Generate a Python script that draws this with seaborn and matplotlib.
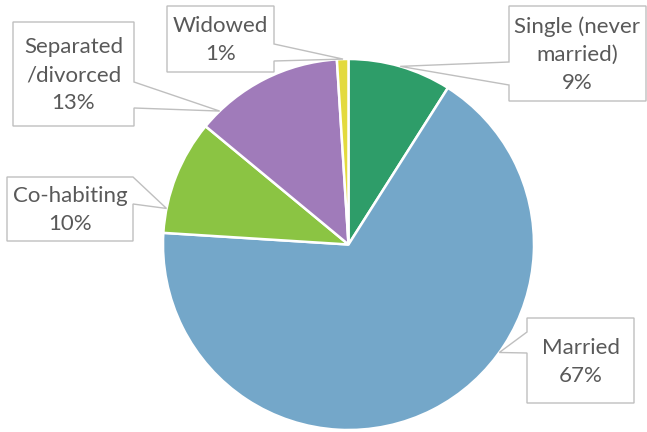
import matplotlib
matplotlib.use("Agg")
import matplotlib.pyplot as plt
import seaborn as sns
import numpy as np
from matplotlib.patches import Polygon

sns.set_theme(style="white")
plt.rcParams['font.family'] = ['Lato', 'DejaVu Sans']

# Data
categories = ["Single (never\nmarried)", "Married", "Co-habiting", "Separated\n/divorced", "Widowed"]
values = [9, 67, 10, 13, 1]
colors = ["#2E9D69", "#74A7C9", "#8BC443", "#A07BBA", "#E3DA3E"]

W, H = 647, 432
fig = plt.figure(figsize=(W / 100, H / 100), dpi=100)

# pie geometry (pixels, origin top-left)
cx, cy, r = 348.5, 244.5, 185.5
ax = fig.add_axes([(cx - r) / W, (H - cy - r) / H, 2 * r / W, 2 * r / H])
ax.pie(values, colors=colors, startangle=90, counterclock=False, radius=1,
       wedgeprops=dict(edgecolor="white", linewidth=1.8))
ax.set_xlim(-1, 1)
ax.set_ylim(-1, 1)
ax.set_aspect("auto")
ax.axis("off")

# overlay for callouts
ov = fig.add_axes([0, 0, 1, 1], zorder=5)
ov.set_xlim(0, W)
ov.set_ylim(H, 0)
ov.axis("off")

# callout layout: box (x0, y0, x1, y1), side, pointer base ya, yb, tip angle (deg)
layout = [
    ((509, 6, 646, 101), "L", 62, 85, 73.8),
    ((527, 318, 634, 403), "L", 332, 353, -35.6),
    ((7, 177, 133, 241), "R", 177, 204, 168.8),
    ((13, 22, 134, 126), "R", 82, 108, 134.0),
    ((167, 6, 274, 72), "R", 44, 61, 91.7),
]

for cat, val, (box, side, ya, yb, ang) in zip(categories, values, layout):
    x0, y0, x1, y1 = box
    a = np.deg2rad(ang)
    tx, ty = cx + r * np.cos(a), cy - r * np.sin(a)
    if side == "R":
        pts = [(x0, y0), (x1, y0), (x1, ya), (tx, ty), (x1, yb), (x1, y1), (x0, y1)]
    else:
        pts = [(x0, y0), (x1, y0), (x1, y1), (x0, y1), (x0, yb), (tx, ty), (x0, ya)]
    ov.add_patch(Polygon(pts, closed=True, facecolor="white", edgecolor="#BFBFBF",
                         linewidth=1.0, joinstyle="miter"))
    ov.text((x0 + x1) / 2, (y0 + y1) / 2 + 1, f"{cat}\n{val}%", ha="center", va="center",
            fontsize=16, color="#595959", linespacing=1.5)

fig.savefig("out.png", dpi=100, facecolor="white")
